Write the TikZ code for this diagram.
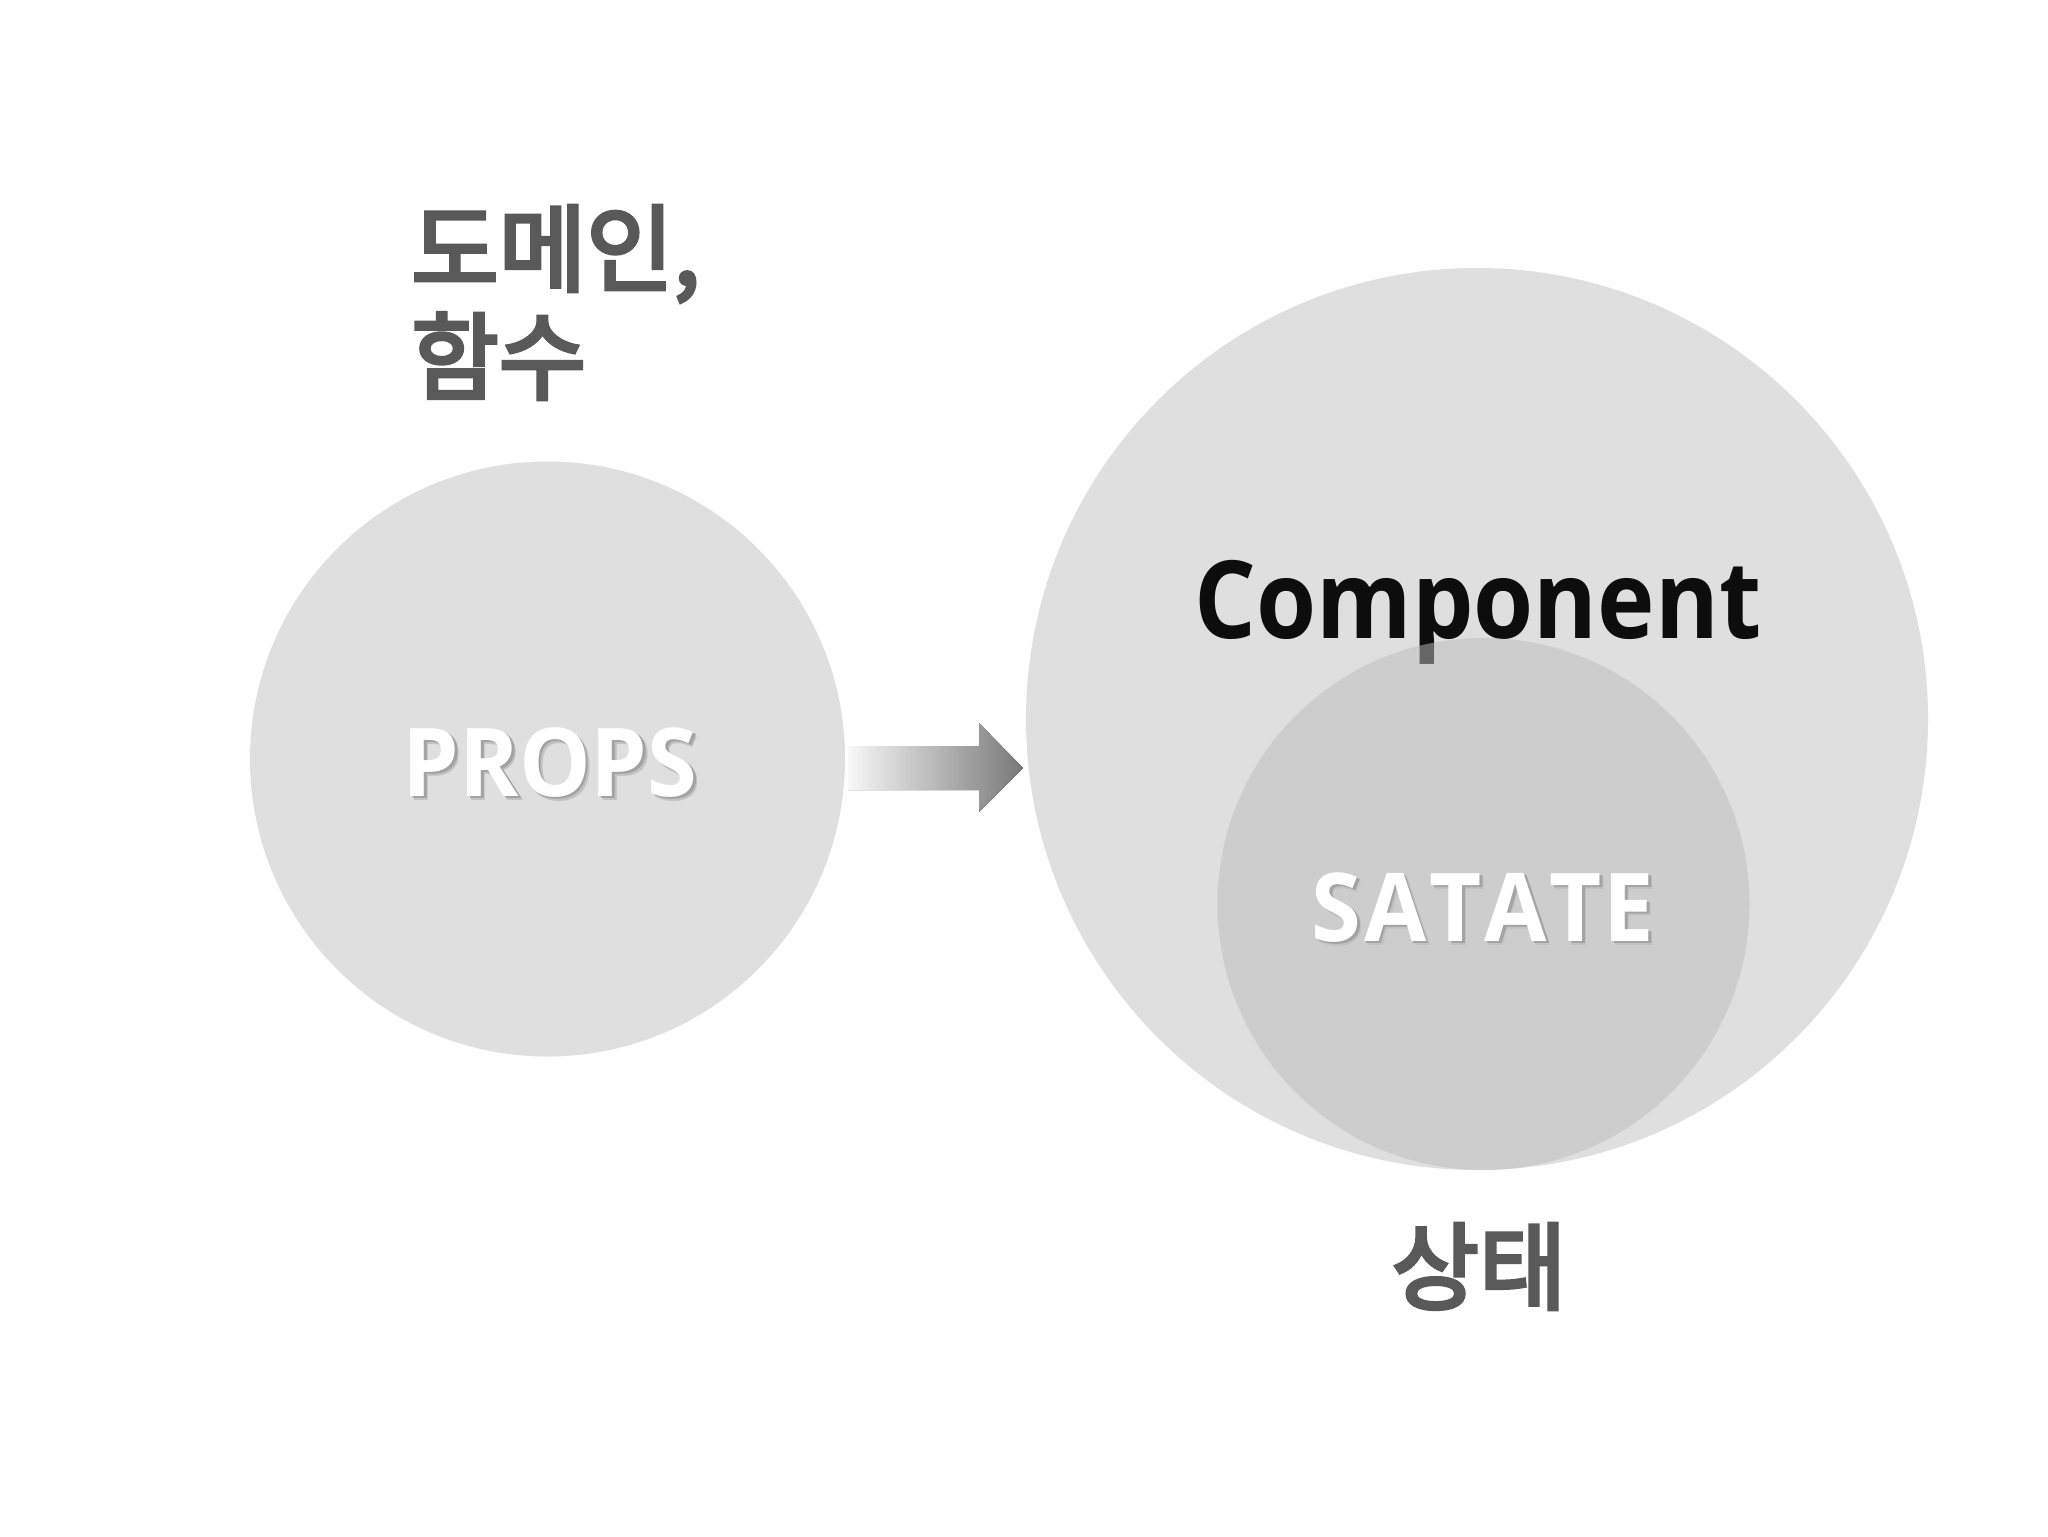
\documentclass[tikz,border=0pt]{standalone}
\usepackage{fontspec}
\setmainfont{Open Sans}
\newfontfamily\kr{Noto Sans CJK KR}[FakeBold=4]
\definecolor{circ}{HTML}{DFDFDF}
\definecolor{inner}{RGB}{189,189,189}
\definecolor{ktxt}{HTML}{595959}
\definecolor{comp}{HTML}{0D0D0D}
\definecolor{arrL}{gray}{0.97}
\definecolor{arrR}{gray}{0.47}
\definecolor{shA}{gray}{0.76}
\definecolor{shB}{gray}{0.64}
\newcommand\shadowed[1]{\rlap{\kern2.2pt\raisebox{-2.2pt}{\color{shA}#1}}\rlap{\kern1.4pt\raisebox{-1.4pt}{\color{shB}#1}}#1}
\tikzset{
  disc/.style={circle,inner sep=0pt,draw=none},
  krtext/.style={text=ktxt,font=\kr\fontsize{47.5}{54}\selectfont,inner sep=0pt},
  wtext/.style={text=white,font=\bfseries\fontsize{47.5}{54}\selectfont,inner sep=0pt,anchor=base}
}
\begin{document}
\begin{tikzpicture}[x=0.5pt,y=-0.5pt]
\useasboundingbox[fill=white] (0,0) rectangle (2048,1536);
% left circle
\node[disc,fill=circ,minimum size=297.5pt] (props) at (547.5,759) {};
% big circle
\node[disc,fill=circ,minimum size=451pt] (comp) at (1477,719) {};
\node[text=comp,font=\bfseries\fontsize{54}{60}\selectfont,inner sep=0pt,anchor=base] (complbl) at (1478,638) {\scalebox{0.9}[1]{Component}};
% inner circle
\node[disc,fill=inner,fill opacity=0.51,minimum size=266pt] (state) at (1483.5,904) {};
% white labels with drop shadow
\node[wtext] (propslbl) at (550,796) {\scalebox{0.95}[1]{\shadowed{PROPS}}};
\node[wtext] (statelbl) at (1483,941) {\scalebox{0.95}[1]{\shadowed{S\kern1.5pt A\kern1.5pt T\kern1.5pt A\kern1.5pt T\kern1pt E}}};
% arrow
\fill[left color=arrL,right color=arrR] (848,746) -- (979,746) -- (979,723) -- (1023,768) -- (979,812) -- (979,790) -- (848,790) -- cycle;
% korean labels
\node[krtext,anchor=base west] (dom1) at (411,284) {도메인,};
\node[krtext,anchor=base west] (dom2) at (411,392) {함수};
\node[krtext,anchor=base] (sang) at (1479,1302) {상태};
\end{tikzpicture}
\end{document}
